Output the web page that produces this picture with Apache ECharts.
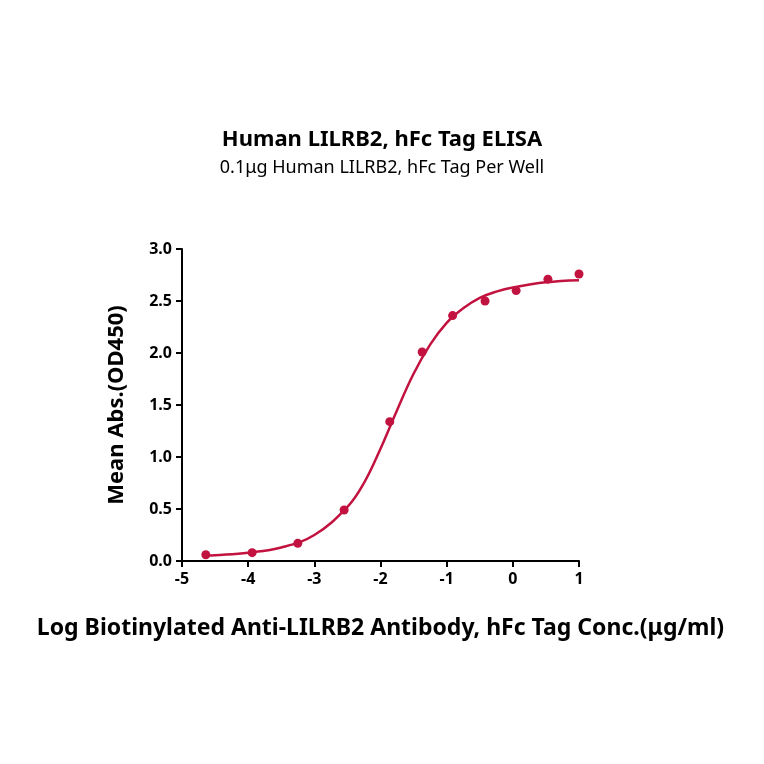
<!DOCTYPE html>
<html><head><meta charset="utf-8">
<script src="https://cdn.jsdelivr.net/npm/echarts@6/dist/echarts.min.js"></script>
<style>html,body{margin:0;background:#fff}#c{width:764px;height:764px}</style>
</head><body><div id="c"></div>
<script>
var pointX = [-4.64,-3.94,-3.25,-2.55,-1.86,-1.37,-0.91,-0.42,0.05,0.53,1.0];
var pointY = [0.06,0.08,0.17,0.49,1.34,2.01,2.36,2.50,2.60,2.71,2.76];
var curveX = [-4.64,-4.5,-4,-3.5,-3,-2.5,-2.25,-2,-1.75,-1.5,-1.25,-1,-0.75,-0.5,-0.25,0,0.5,1];
var curveY = [0.05,0.055,0.08,0.13,0.25,0.52,0.75,1.08,1.45,1.80,2.08,2.29,2.43,2.53,2.59,2.63,2.68,2.70];
var xTicks = [-5,-4,-3,-2,-1,0,1];
var color = '#c2123f';
var font = '"Noto Sans", Lato, sans-serif';
var chart = echarts.init(document.getElementById('c'));
chart.setOption({
  animation:false,
  title:{text:'Human LILRB2, hFc Tag ELISA',subtext:'0.1\u03bcg Human LILRB2, hFc Tag Per Well',left:'center',top:124,
    textStyle:{fontFamily:font,fontSize:22,fontWeight:'bold',color:'#000'},
    subtextStyle:{fontFamily:font,fontSize:18,color:'#000'},itemGap:8},
  grid:{left:182,right:185,top:249,bottom:203},
  xAxis:{type:'value',min:-5,max:1,interval:1,
    name:'Log Biotinylated Anti-LILRB2 Antibody, hFc Tag Conc.(\u03bcg/ml)',nameLocation:'middle',nameGap:56,
    nameTextStyle:{fontFamily:font,fontSize:23,fontWeight:'bold',color:'#000'},
    axisLine:{onZero:false,lineStyle:{color:'#000',width:2}},axisTick:{show:true,length:6,lineStyle:{color:'#000',width:2}},
    axisLabel:{fontFamily:font,fontSize:16,fontWeight:'bold',color:'#000',margin:10,
      formatter:function(v){return xTicks.indexOf(v)>=0?String(v):'';}},
    splitLine:{show:false}},
  yAxis:{type:'value',min:0,max:3,interval:0.5,
    name:'Mean Abs.(OD450)',nameLocation:'middle',nameGap:54,
    nameTextStyle:{fontFamily:font,fontSize:22,fontWeight:'bold',color:'#000'},
    axisLine:{show:true,onZero:false,lineStyle:{color:'#000',width:2}},axisTick:{show:true,length:6,lineStyle:{color:'#000',width:2}},
    axisLabel:{fontFamily:font,fontSize:16,fontWeight:'bold',color:'#000',margin:10,formatter:function(v){return v.toFixed(1);}},
    splitLine:{show:false}},
  series:[
    {type:'line',data:curveX.map(function(x,i){return [x,curveY[i]];}),smooth:0.4,showSymbol:false,
      lineStyle:{color:color,width:2.5}},
    {type:'scatter',data:pointX.map(function(x,i){return [x,pointY[i]];}),symbolSize:9,itemStyle:{color:color,opacity:1}}
  ]
});
</script></body></html>
